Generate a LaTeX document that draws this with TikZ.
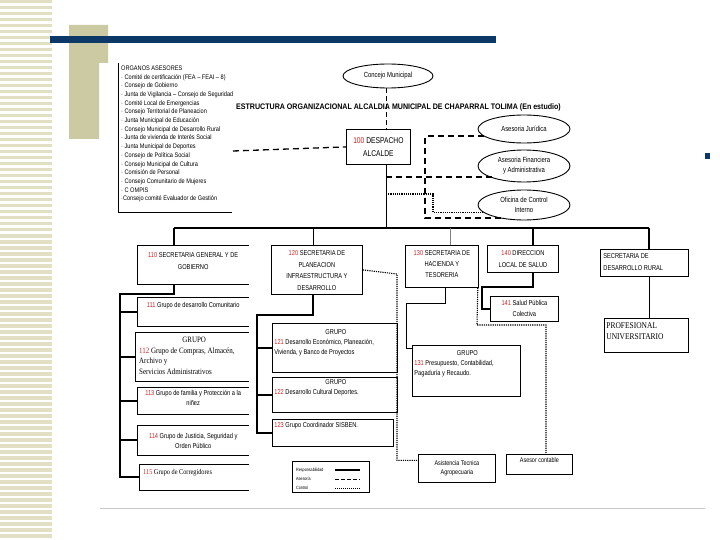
\documentclass[tikz,border=0pt]{standalone}
\usepackage{fontspec}
\setmainfont{Liberation Sans}[FakeStretch=0.8]
\newfontfamily\serf{Liberation Serif}[FakeStretch=0.85]
\newfontfamily\lstf{Liberation Sans}[FakeStretch=0.85]
\newfontfamily\ttlf{Liberation Sans}[FakeStretch=0.88]
\usetikzlibrary{shapes.geometric,calc}
\definecolor{navy}{RGB}{12,56,104}
\definecolor{khaki}{RGB}{204,202,163}
\definecolor{stripe}{RGB}{226,224,196}
\definecolor{numred}{RGB}{205,35,35}
\definecolor{rulegray}{RGB}{200,200,200}
\newcommand{\nr}[1]{\textcolor{numred}{#1}}
\newcommand{\bt}[4]{\parbox[c][#2pt][t]{#1pt}{\vspace*{#3pt}#4}}
\newcommand{\fsz}[2]{\fontsize{#1}{#2}\selectfont}
\newcommand{\openr}[1]{\draw[line width=0.8pt] (#1.north east) -- (#1.north west) -- (#1.south west) -- (#1.south east);}
\tikzset{
  box/.style={draw,line width=0.8pt,inner sep=0pt,anchor=north west},
  obox/.style={inner sep=0pt,anchor=north west},
  ell/.style={draw,ellipse,line width=0.9pt,inner sep=0pt},
  resp/.style={line width=1.7pt},
  thinl/.style={line width=0.7pt},
  medl/.style={line width=1.2pt},
  ases/.style={line width=1.3pt,dash pattern=on 6pt off 4pt},
  ctrl/.style={line width=1.1pt,dash pattern=on 1.2pt off 1pt},
}
\begin{document}
\begin{tikzpicture}[x=1pt,y=-1pt,every node/.style={font=\fsz{7.1}{10}}]
\useasboundingbox (0,0) rectangle (720,540);
\fill[white] (0,0) rectangle (720,540);
% slide decoration
\foreach \k in {0,...,89} \fill[stripe] (0,\k*6) rectangle (52,\k*6+3.5);
\fill[khaki] (69,25) -- (108,25) -- (108,63) -- (99,63) -- (99,139) -- (69,139) -- cycle;
\fill[navy] (50,36) rectangle (496,43);
\fill[navy] (705,153) rectangle (710,159);
\draw[rulegray,line width=0.8pt] (100,508) -- (705,508);

% list of advisory bodies
\draw[line width=0.8pt] (118,63) -- (118,212) -- (232,212);
\node[anchor=north west,inner sep=0pt,align=left,font=\lstf\fsz{6.6}{8.7}] (org) at (121,65.5) {ORGANOS ASESORES\\
· Comité de certificación (FEA – FEAI – 8)\\
· Consejo de Gobierno\\
· Junta de Vigilancia – Consejo de Seguridad\\
· Comité Local de Emergencias\\
· Consejo Territorial de Planeacion\\
· Junta Municipal de Educación\\
· Consejo Municipal de Desarrollo Rural\\
· Junta de vivienda de Interés Social\\
· Junta Municipal de Deportes\\
· Consejo de Política Social\\
· Consejo Municipal de Cultura\\
· Comisión de Personal\\
· Consejo Comunitario de Mujeres\\
· C OMPIS\\
·Consejo comité Evaluador de Gestión};

% title
\node[anchor=west,inner sep=0pt,font=\ttlf\bfseries\fsz{8.05}{9}] (title) at (236,107) {ESTRUCTURA ORGANIZACIONAL ALCALDIA MUNICIPAL DE CHAPARRAL TOLIMA (En estudio)};

% ellipses
\node[ell,minimum width=90pt,minimum height=24pt,font=\fsz{7.4}{10}] (cm) at (388,76) {Concejo Municipal};
\node[ell,minimum width=92pt,minimum height=28pt,font=\fsz{7.4}{10}] (aj) at (524,129) {Asesoria Jurídica};
\node[ell,minimum width=92pt,minimum height=32pt,align=center,font=\fsz{7.4}{10}] (af) at (524,166) {Asesoria Financiera\\y Administrativa};
\node[ell,minimum width=92pt,minimum height=30pt,align=center,font=\fsz{7.4}{10}] (oc) at (524,205) {Oficina de Control\\Interno};

% despacho
\node[box,minimum width=64pt,minimum height=35pt,align=center,font=\fsz{8.4}{12.5}] (desp) at (346,129) {\nr{100} DESPACHO\\ALCALDE};

% top-level boxes
\node[obox,font=\fsz{7.1}{12}] (s110) at (137,245) {\bt{112}{39}{7.2}{\centering\nr{110} SECRETARIA GENERAL Y DE\\GOBIERNO}};
\openr{s110}
\node[box,font=\fsz{7.1}{11.5}] (s120) at (271,245) {\bt{91}{49}{5.2}{\centering\nr{120} SECRETARIA DE\\PLANEACION\\INFRAESTRUCTURA Y\\DESARROLLO}};
\node[box,font=\fsz{7.1}{11}] (s130) at (405,245) {\bt{73}{42}{5.2}{\centering\nr{130} SECRETARIA DE\\HACIENDA Y\\TESORERIA}};
\node[box,font=\fsz{7.1}{12}] (s140) at (487,245) {\bt{71}{27}{5.2}{\centering\nr{140} DIRECCION\\LOCAL DE SALUD}};
\node[box,font=\fsz{7.1}{12}] (sdr) at (600,249) {\bt{88}{27}{4.2}{\raggedright\leftskip 3pt SECRETARIA DE\\DESARROLLO RURAL}};

% groups under 110
\node[obox] (g111) at (137,297) {\bt{112}{29}{5.2}{\centering\nr{111} Grupo de desarrollo Comunitario}};
\openr{g111}
\node[obox,font=\serf\fsz{8.2}{10.5}] (g112) at (135,332) {\bt{114}{49}{5.0}{\raggedright\leftskip 4pt\hfill GRUPO\hfill\hbox{}\\\nr{112} Grupo de Compras, Almacén,\\Archivo y\\Servicios Administrativos}};
\openr{g112}
\node[obox,font=\fsz{7.1}{10}] (g113) at (137,387) {\bt{112}{27}{3.2}{\centering\nr{113} Grupo de familia y Protección a la\\niñez}};
\openr{g113}
\node[obox,font=\fsz{7.1}{9.5}] (g114) at (137,425) {\bt{112}{30}{8.6}{\centering\nr{114} Grupo de Justicia, Seguridad y\\Orden Público}};
\openr{g114}
\node[obox,font=\serf\fsz{7.4}{10}] (g115) at (139,464) {\bt{110}{26}{5.4}{\raggedright\leftskip 4pt\nr{115} Grupo de Corregidores}};
\openr{g115}

% groups under 120
\node[box,font=\fsz{7.1}{10}] (g121) at (272,323) {\bt{125}{49}{6.2}{\raggedright\leftskip 2pt\hfill GRUPO\hfill\hbox{}\\\nr{121} Desarrollo Económico, Planeación,\\Vivienda, y Banco de Proyectos}};
\node[box,font=\fsz{7.1}{10}] (g122) at (272,377) {\bt{125}{35}{2.2}{\raggedright\leftskip 2pt\hfill GRUPO\hfill\hbox{}\\\nr{122} Desarrollo Cultural Deportes.}};
\node[box] (g123) at (272,419) {\bt{121}{27}{3.2}{\raggedright\leftskip 2pt\nr{123} Grupo Coordinador SISBEN.}};

% group under 130
\node[box,font=\fsz{7.1}{10}] (g131) at (412,345) {\bt{108}{51}{5.2}{\raggedright\leftskip 2pt\hfill GRUPO\hfill\hbox{}\\\nr{131} Presupuesto, Contabilidad,\\Pagaduría y Recaudo.}};

% under 140 and SDR
\node[box,font=\fsz{7.1}{11}] (g141) at (490,296) {\bt{68}{25}{4.2}{\centering\nr{141} Salud Pública\\Colectiva}};
\node[box,font=\serf\fsz{8.8}{11}] (prof) at (604,318) {\bt{84}{34}{4.6}{\raggedright\leftskip 2pt PROFESIONAL\\UNIVERSITARIO}};

% control targets
\node[box,font=\fsz{6.8}{9}] (asist) at (418,454) {\bt{77}{28}{6.4}{\centering Asistencia Tecnica\\Agropecuaria}};
\node[box,font=\fsz{6.8}{9}] (ascont) at (506,454) {\bt{66}{20}{3.4}{\centering Asesor contable}};

% legend
\node[box,minimum width=77pt,minimum height=31pt] (lg) at (292,461) {};
\node[anchor=west,inner sep=0pt,font=\fsz{4.6}{5}] (lg1) at ($(lg.north west)+(4,9)$) {Responsabilidad};
\node[anchor=west,inner sep=0pt,font=\fsz{4.6}{5}] (lg2) at ($(lg.north west)+(4,18)$) {Asesoría};
\node[anchor=west,inner sep=0pt,font=\fsz{4.6}{5}] (lg3) at ($(lg.north west)+(4,27)$) {Control};
\draw[line width=1.4pt] ($(lg.north west)+(43,9)$) -- ++(25,0);
\draw[line width=0.8pt,dash pattern=on 4pt off 2pt] ($(lg.north west)+(43,18)$) -- ++(25,0);
\draw[line width=0.9pt,dash pattern=on 1pt off 1pt] ($(lg.north west)+(43,27)$) -- ++(25,0);

% ---------- connectors ----------
\coordinate (dj) at (386,228);
\coordinate (b110) at (174,228);
\coordinate (b120) at (313,228);
\coordinate (b130) at (450,228);
\coordinate (b140) at (533,228);
\coordinate (bsdr) at (649,228);
\draw[thinl,dash pattern=on 5pt off 3pt] (cm.south -| dj) -- (desp.north -| dj);
\draw[thinl] (desp.south -| dj) -- (dj);
\draw[line width=1.8pt] (b110) -- (bsdr);
\draw[resp] (b110) -- (b110 |- s110.north);
\draw[thinl] (b120) -- (b120 |- s120.north);
\draw[thinl,gray] (b130) -- (b130 |- s130.north);
\draw[resp] (b140) -- (b140 |- s140.north);
\draw[resp] (bsdr) -- (bsdr |- sdr.north);

% 110 spine
\coordinate (sp1) at (120,294);
\draw[resp] (s110.south -| b110) |- (sp1) |- (g115.west);
\draw[resp] (sp1 |- g111.west) -- (g111.west);
\draw[resp] (sp1 |- g112.west) -- (g112.west);
\draw[resp] (sp1 |- g113.west) -- (g113.west);
\draw[resp] (sp1 |- g114.west) -- (g114.west);
% 120 spine
\coordinate (sp2) at (257,315);
\draw[resp] (s120.south -| b120) |- (sp2) |- (g123.west);
\draw[resp] (sp2 |- g121.west) -- (g121.west);
\draw[resp] (sp2 |- g122.west) -- (g122.west);
% 130
\coordinate (c130) at (445,303);
\coordinate (sp3) at (406,303);
\draw[thinl] (s130.south -| c130) -- (c130) -- (sp3) |- ([yshift=-3pt]g131.north west);
% 140
\coordinate (c140a) at (533,287);
\coordinate (c140b) at (482,287);
\draw[medl] (s140.south -| c140a) -- (c140a) -- (c140b) |- (g141.west);
% SDR
\draw[thinl] (sdr.south -| bsdr) -- (prof.north -| bsdr);

% advisory (dashed)
\coordinate (lst) at (233,151);
\draw[ases] (lst) -- (desp.west);
\coordinate (a2) at (425,218);
\draw[ases] (aj.190) -| (a2) -- (a2 -| oc.215);
\coordinate (f1) at (386,177);
\draw[ases] (f1) -- (f1 -| af.200);

% control (dotted)
\coordinate (o1) at (386,194);
\coordinate (o2) at (433,194);
\draw[ctrl] (o1) -- (o2) |- (oc.190);
\coordinate (d1) at (397,274);
\draw[ctrl] (s120.east) -- (d1) |- ([yshift=8pt]asist.west);
\coordinate (e1) at (477,325);
\coordinate (e2) at (546,325);
\draw[ctrl] ([xshift=-1pt]s130.south east) -- (e1) -- (e2) -- (e2 |- ascont.north);
\end{tikzpicture}
\end{document}
